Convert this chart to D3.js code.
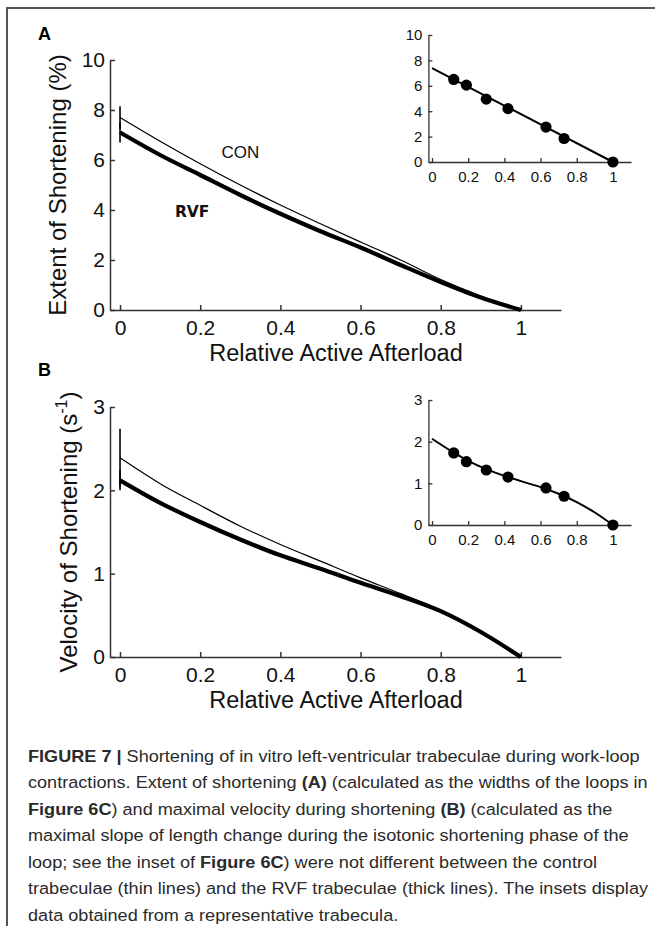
<!DOCTYPE html>
<html>
<head>
<meta charset="utf-8">
<script src="https://cdn.jsdelivr.net/npm/d3@7"></script>
<style>
  html, body { margin: 0; padding: 0; background: #fff; }
  svg { display: block; }
</style>
</head>
<body>
<svg id="fig" width="655" height="926"></svg>
<script>
// Mean curves over relative active afterload
const afterload   = [0, 0.1, 0.2, 0.3, 0.4, 0.5, 0.6, 0.7, 0.8, 0.9, 1];
const conExtent   = [7.7, 6.75, 5.85, 5.0, 4.2, 3.45, 2.72, 2.0, 1.22, 0.56, 0];
const rvfExtent   = [7.1, 6.2, 5.4, 4.6, 3.85, 3.15, 2.5, 1.8, 1.12, 0.5, 0];
const conVelocity = [2.39, 2.08, 1.82, 1.57, 1.35, 1.15, 0.95, 0.76, 0.56, 0.3, 0];
const rvfVelocity = [2.12, 1.85, 1.62, 1.41, 1.22, 1.06, 0.89, 0.73, 0.55, 0.3, 0];

// Standard errors at zero afterload
const conExtentSem = 0.45, rvfExtentSem = 0.4;
const conVelocitySem = 0.35, rvfVelocitySem = 0.12;

// Representative trabecula (insets)
const trabAfterload = [0.12, 0.19, 0.3, 0.42, 0.63, 0.73, 1];
const trabExtent    = [6.5, 6.05, 4.95, 4.2, 2.75, 1.85, 0];
const trabVelocity  = [1.73, 1.52, 1.32, 1.15, 0.89, 0.69, 0];
const extentFitAfterload = [0, 1];
const extentFit          = [7.4, 0];
const velocityFit        = [2.07, 1.79, 1.54, 1.34, 1.18, 1.04, 0.91, 0.75, 0.55, 0.3, 0];

// Ticks
const afterloadTicks  = [0, 0.2, 0.4, 0.6, 0.8, 1];
const afterloadLabels = ["0", "0.2", "0.4", "0.6", "0.8", "1"];
const extentTicks     = [0, 2, 4, 6, 8, 10];
const velocityTicks   = [0, 1, 2, 3];

const svg = d3.select("#fig");
const FONT = "'Liberation Sans', Arial, Helvetica, sans-serif";
const AXIS = "#333";

// Page frame
svg.append("path")
  .attr("d", "M7,926V8H655")
  .attr("fill", "none").attr("stroke", "#555").attr("stroke-width", 2);

const zip = (xs, ys) => xs.map((x, i) => [x, ys[i]]);

function drawAxes(g, x, y, yTicks, o) {
  const ax = g.append("g").attr("transform", `translate(0,${y.range()[0]})`)
    .call(d3.axisBottom(x).tickValues(afterloadTicks)
      .tickFormat((d, i) => afterloadLabels[i])
      .tickSizeInner(-o.tick).tickSizeOuter(0).tickPadding(o.xPad));
  const ay = g.append("g").attr("transform", `translate(${x.range()[0]},0)`)
    .call(d3.axisLeft(y).tickValues(yTicks).tickFormat(d3.format("d"))
      .tickSizeInner(-o.tick).tickSizeOuter(0).tickPadding(o.yPad));
  [ax, ay].forEach(a => {
    a.selectAll("path.domain").attr("stroke", AXIS).attr("stroke-width", o.axisW);
    a.selectAll(".tick line").attr("stroke", AXIS).attr("stroke-width", o.axisW);
    a.selectAll("text").attr("font-family", FONT).attr("font-size", o.font).attr("fill", "#111");
  });
}

function mainPanel(o) {
  const g = svg.append("g");
  const x = d3.scaleLinear().domain([-0.025, 1.1]).range([110, 561]);
  const y = d3.scaleLinear().domain([0, o.yMax]).range([o.y0, o.yTop]);
  drawAxes(g, x, y, o.yTicks, { tick: 5, xPad: 10, yPad: 5, font: 21, axisW: 1.5 });

  // error bars at zero afterload
  o.errs.forEach(([m, s]) => {
    g.append("line").attr("x1", x(0)).attr("x2", x(0))
      .attr("y1", y(m - s)).attr("y2", y(m + s))
      .attr("stroke", "#000").attr("stroke-width", 1.6);
  });

  const line = d3.line().x(d => x(d[0])).y(d => y(d[1])).curve(d3.curveMonotoneX);
  g.append("path").datum(zip(afterload, o.con)).attr("d", line)
    .attr("fill", "none").attr("stroke", "#000").attr("stroke-width", 1.2);
  g.append("path").datum(zip(afterload, o.rvf)).attr("d", line)
    .attr("fill", "none").attr("stroke", "#000").attr("stroke-width", 4.2);

  // axis titles
  g.append("text").attr("x", 336).attr("y", o.y0 + 51)
    .attr("text-anchor", "middle").attr("font-family", FONT).attr("font-size", 23.5)
    .attr("fill", "#111").text("Relative Active Afterload");
  const yl = g.append("text")
    .attr("transform", `translate(${o.ylabX},${(o.y0 + o.yTop) / 2}) rotate(-90)`)
    .attr("text-anchor", "middle").attr("font-family", FONT).attr("font-size", 24)
    .attr("fill", "#111");
  o.ylab(yl);

  // panel letter
  g.append("text").attr("x", 38).attr("y", o.letterY)
    .attr("font-family", FONT).attr("font-weight", "bold").attr("font-size", 18)
    .attr("fill", "#000").text(o.letter);
  return { g, x, y };
}

function inset(o) {
  const g = svg.append("g");
  const x = d3.scaleLinear().domain([-0.02, 1.1]).range([428.4, 631]);
  const y = d3.scaleLinear().domain([0, o.yMax]).range([o.y0, o.yTop]);
  drawAxes(g, x, y, o.yTicks, { tick: 4, xPad: 9, yPad: 6, font: 15, axisW: 1.3 });
  const line = d3.line().x(d => x(d[0])).y(d => y(d[1])).curve(d3.curveMonotoneX);
  g.append("path").datum(zip(o.fitX, o.fit)).attr("d", line)
    .attr("fill", "none").attr("stroke", "#000").attr("stroke-width", 2);
  g.selectAll("circle").data(zip(trabAfterload, o.pts)).join("circle")
    .attr("cx", d => x(d[0])).attr("cy", d => y(d[1])).attr("r", 5.6).attr("fill", "#000");
}

// Panel A: extent of shortening
const A = mainPanel({
  yMax: 10, y0: 310, yTop: 60, yTicks: extentTicks,
  con: conExtent, rvf: rvfExtent,
  errs: [[conExtent[0], conExtentSem], [rvfExtent[0], rvfExtentSem]],
  ylabX: 66, letter: "A", letterY: 40,
  ylab: t => t.text("Extent of Shortening (%)")
});
A.g.append("text").attr("x", A.x(0.3)).attr("y", 158).attr("text-anchor", "middle")
  .attr("font-family", FONT).attr("font-size", 17).attr("fill", "#111").text("CON");
A.g.append("text").attr("x", A.x(0.18)).attr("y", 217).attr("text-anchor", "middle")
  .attr("font-family", "'DejaVu Sans', Verdana, sans-serif").attr("font-weight", "bold")
  .attr("font-size", 15.5).attr("fill", "#111").text("RVF");

inset({ yMax: 10, y0: 162, yTop: 35, yTicks: extentTicks,
        fitX: extentFitAfterload, fit: extentFit, pts: trabExtent });

// Panel B: velocity of shortening
mainPanel({
  yMax: 3, y0: 657, yTop: 407, yTicks: velocityTicks,
  con: conVelocity, rvf: rvfVelocity,
  errs: [[conVelocity[0], conVelocitySem], [rvfVelocity[0], rvfVelocitySem]],
  ylabX: 77, letter: "B", letterY: 376,
  ylab: t => {
    t.append("tspan").text("Velocity of Shortening (s");
    t.append("tspan").attr("font-size", 16).attr("dy", -10).text("-1");
    t.append("tspan").attr("dy", 10).text(")");
  }
});

inset({ yMax: 3, y0: 525, yTop: 400, yTicks: velocityTicks,
        fitX: afterload, fit: velocityFit, pts: trabVelocity });

// Caption
const captionLines = [
  [["FIGURE 7 | ", true], ["Shortening of in vitro left-ventricular trabeculae during work-loop", false]],
  [["contractions. Extent of shortening ", false], ["(A)", true], [" (calculated as the widths of the loops in", false]],
  [["Figure 6C", true], [") and maximal velocity during shortening ", false], ["(B)", true], [" (calculated as the", false]],
  [["maximal slope of length change during the isotonic shortening phase of the", false]],
  [["loop; see the inset of ", false], ["Figure 6C", true], [") were not different between the control", false]],
  [["trabeculae (thin lines) and the RVF trabeculae (thick lines). The insets display", false]],
  [["data obtained from a representative trabecula.", false]]
];
const cap = svg.append("g");
const capTexts = captionLines.map((segs, i) => {
  const t = cap.append("text").attr("x", 0).attr("y", 762 + i * 26.5)
    .attr("font-family", FONT).attr("font-size", 16.5).attr("fill", "#2a2a2a");
  segs.forEach(([s, b]) => t.append("tspan").attr("font-weight", b ? "bold" : "normal").text(s));
  return t;
});
const natural = capTexts[0].node().getComputedTextLength();
const sx = 612 / natural;
cap.attr("transform", `translate(28,0) scale(${sx},1)`);
</script>
</body>
</html>
